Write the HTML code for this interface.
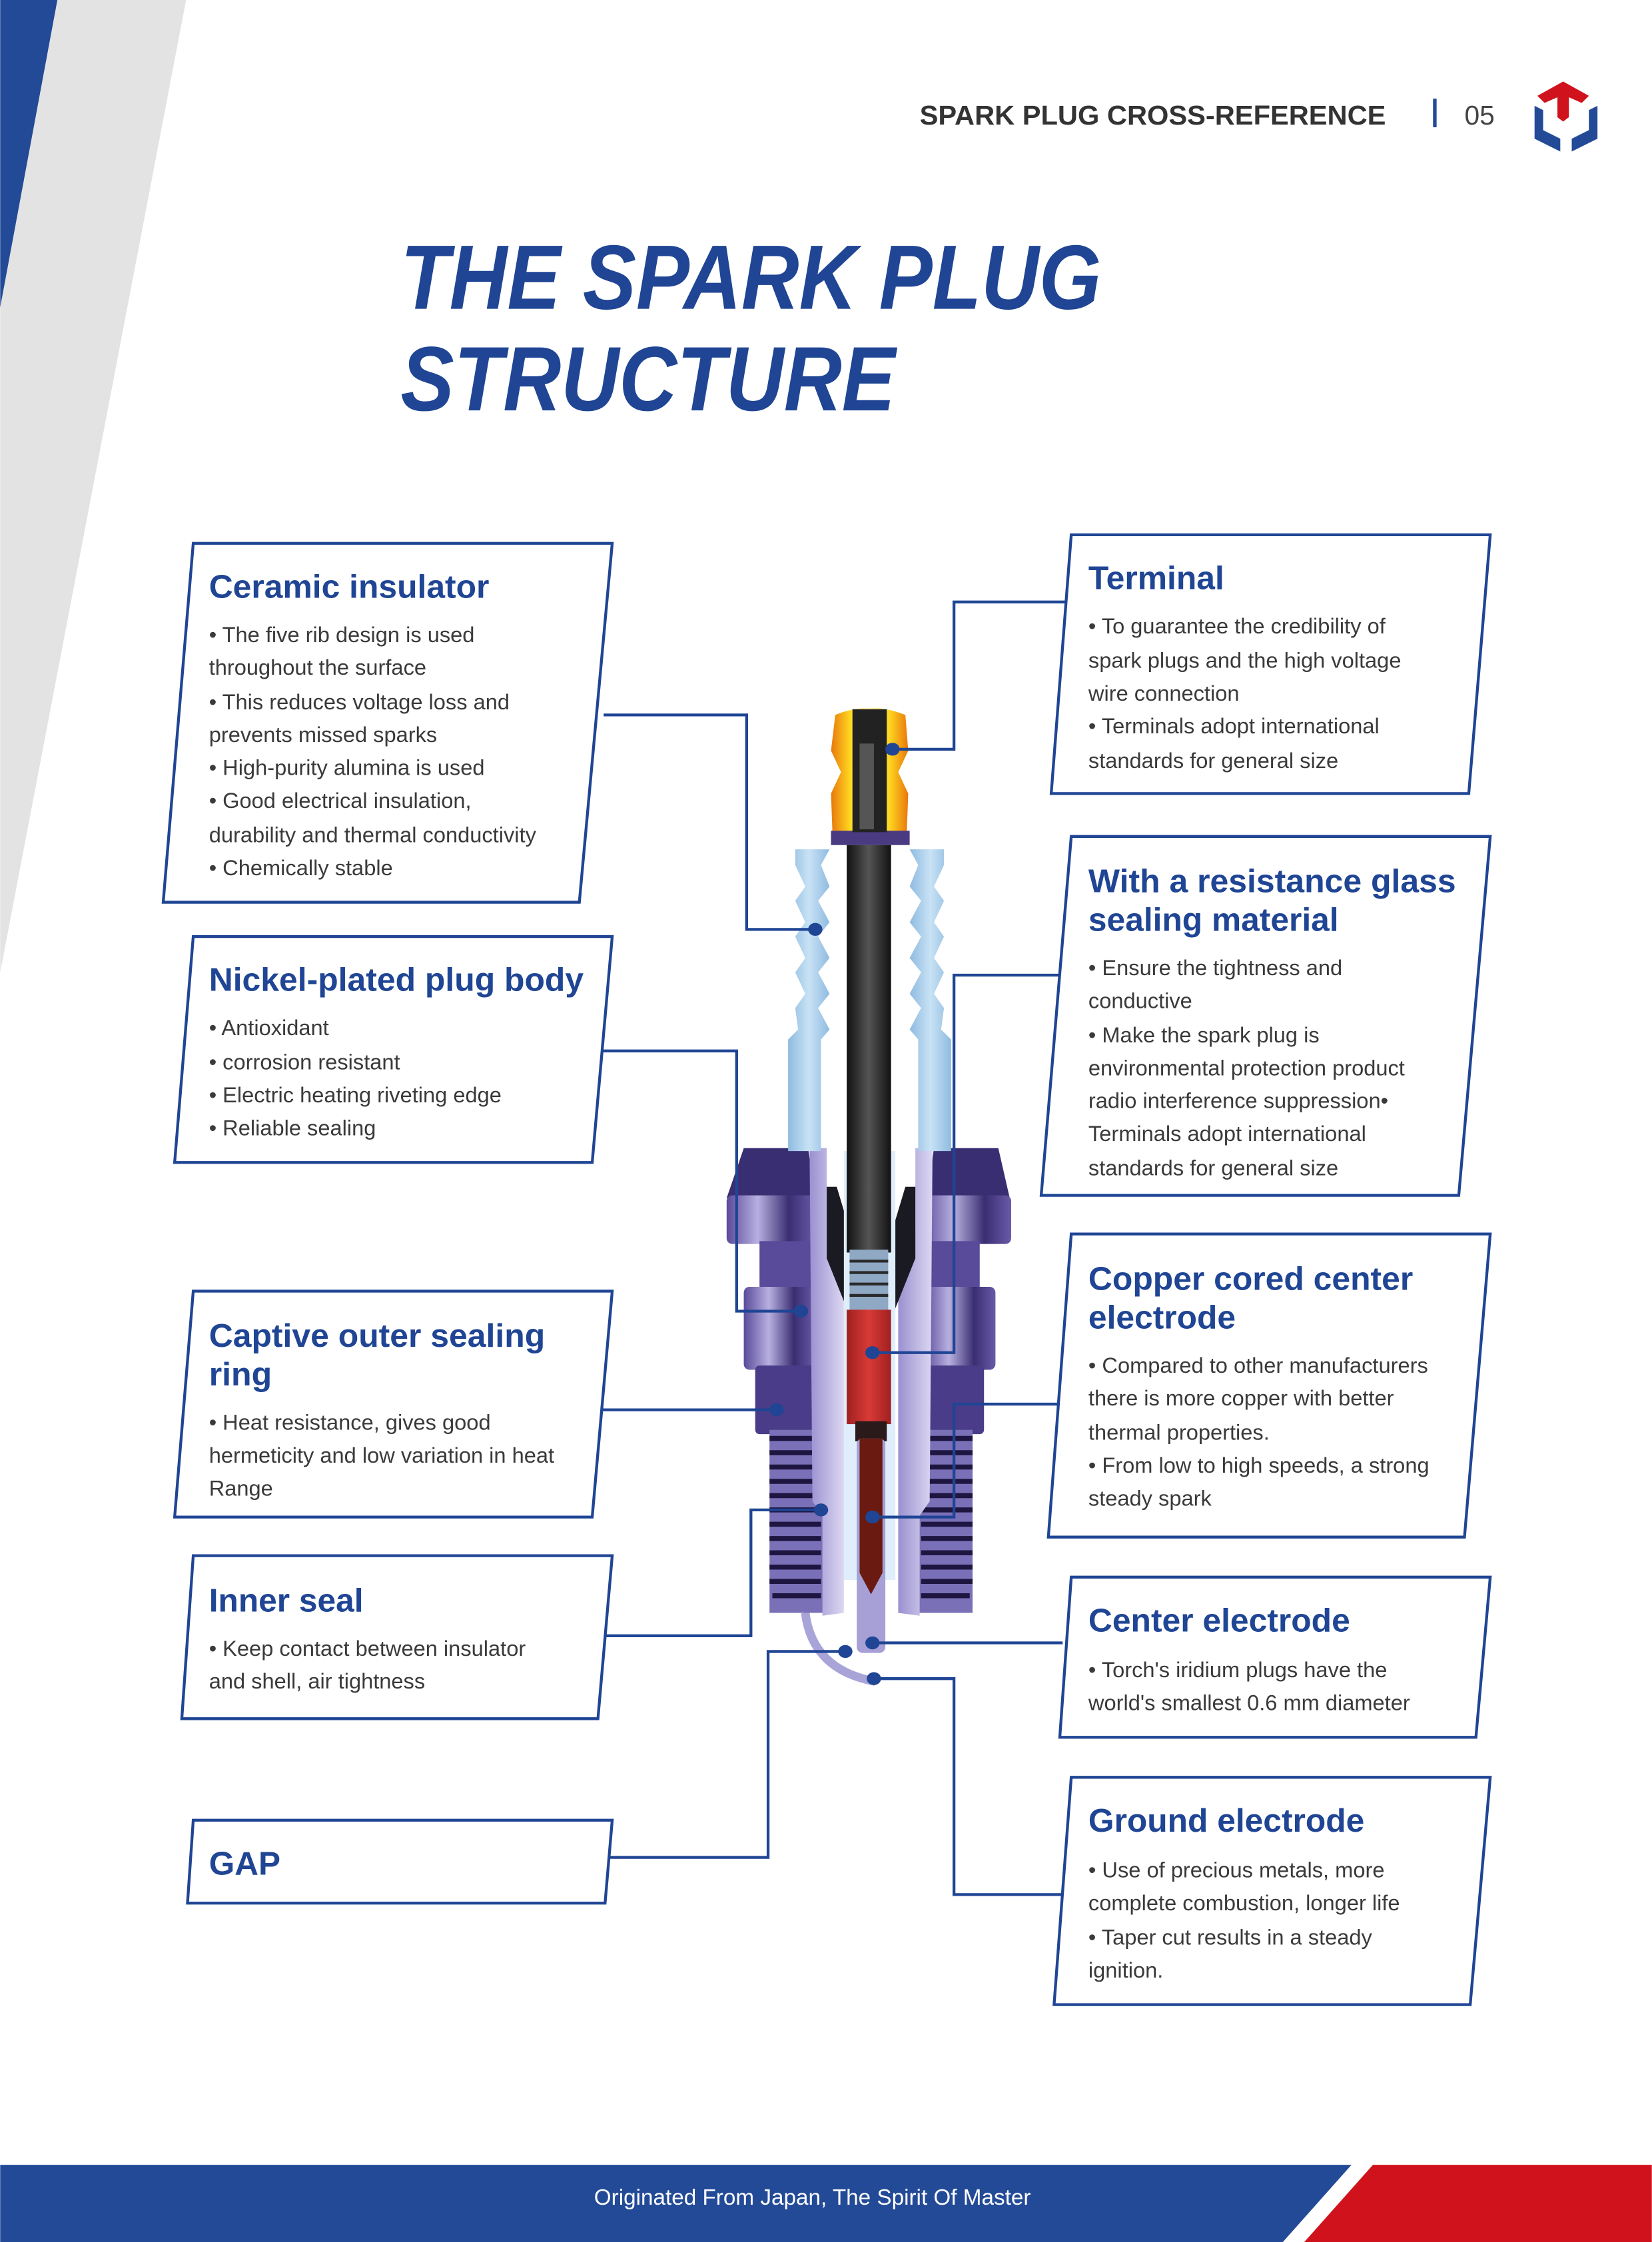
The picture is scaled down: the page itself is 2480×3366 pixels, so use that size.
<!DOCTYPE html>
<html><head><meta charset="utf-8"><style>
html,body{margin:0;padding:0;background:#fff}
svg{display:block}
</style></head><body>
<svg width="2480" height="3366" viewBox="0 0 1155 1568" xmlns="http://www.w3.org/2000/svg" font-family="Liberation Sans, sans-serif">
<defs>
<linearGradient id="gold" x1="0" x2="1"><stop offset="0" stop-color="#e8780c"/><stop offset=".25" stop-color="#ffd820"/><stop offset=".5" stop-color="#fff6c0"/><stop offset=".75" stop-color="#ffd820"/><stop offset="1" stop-color="#e8780c"/></linearGradient>
<linearGradient id="ins" x1="0" x2="1"><stop offset="0" stop-color="#8fbbe0"/><stop offset=".5" stop-color="#c8e2f5"/><stop offset="1" stop-color="#8fbbe0"/></linearGradient>
<linearGradient id="hex" x1="0" x2="1"><stop offset="0" stop-color="#5a4a9a"/><stop offset=".35" stop-color="#b8b0e0"/><stop offset=".7" stop-color="#3a2e72"/><stop offset="1" stop-color="#6a5aa8"/></linearGradient>
<linearGradient id="rod" x1="0" x2="1"><stop offset="0" stop-color="#111"/><stop offset=".5" stop-color="#555"/><stop offset="1" stop-color="#111"/></linearGradient>
<linearGradient id="red" x1="0" x2="1"><stop offset="0" stop-color="#a02020"/><stop offset=".5" stop-color="#d83a36"/><stop offset="1" stop-color="#a02020"/></linearGradient>
<linearGradient id="shell" x1="0" x2="1"><stop offset="0" stop-color="#9a90d0"/><stop offset="1" stop-color="#dcd8f2"/></linearGradient>
</defs>

<polygon points="40,0 130,0 0,680 0,215" fill="#e3e3e3"/>
<polygon points="0,0 40,0 0,215" fill="#234a97"/>

<text x="643" y="87" font-size="19" font-weight="bold" fill="#333" textLength="326" lengthAdjust="spacingAndGlyphs">SPARK PLUG CROSS-REFERENCE</text>
<rect x="1002" y="69" width="2.5" height="20" fill="#234a97"/>
<text x="1024" y="87" font-size="19" fill="#444">05</text>
<polygon points="1093,57 1111,67 1106,72 1097,68 1097,82 1093,85 1089,82 1089,68 1080,72 1075,67" fill="#d0121d"/>
<polygon points="1073,74 1079,77 1079,91 1091,97 1091,106 1073,97" fill="#234a97"/>
<polygon points="1117,74 1111,77 1111,91 1099,97 1099,106 1117,97" fill="#234a97"/>

<text x="280" y="216" font-size="64" font-weight="bold" font-style="italic" fill="#1f4594" textLength="490" lengthAdjust="spacingAndGlyphs">THE SPARK PLUG</text>
<text x="280" y="287" font-size="64" font-weight="bold" font-style="italic" fill="#1f4594" textLength="346" lengthAdjust="spacingAndGlyphs">STRUCTURE</text>

<g>
 <path d="M563,1128 Q568,1168 612,1176" stroke="#a9a4d8" stroke-width="6" fill="none"/>
 <path d="M520,803 L565,803 L570,838 L508,838 Z" fill="#3a2e72"/>
 <path d="M653,803 L698,803 L706,838 L648,838 Z" fill="#3a2e72"/>
 <rect x="508" y="836" width="62" height="34" rx="4" fill="url(#hex)"/>
 <rect x="645" y="836" width="62" height="34" rx="4" fill="url(#hex)"/>
 <rect x="531" y="868" width="40" height="34" fill="#5a4a9a"/>
 <rect x="645" y="868" width="40" height="34" fill="#5a4a9a"/>
 <rect x="520" y="900" width="50" height="58" rx="4" fill="url(#hex)"/>
 <rect x="646" y="900" width="50" height="58" rx="4" fill="url(#hex)"/>
 <rect x="528" y="955" width="44" height="48" rx="3" fill="#4a3c88"/>
 <rect x="644" y="955" width="44" height="48" rx="3" fill="#4a3c88"/>
 <rect x="538" y="1000" width="38" height="128" fill="#7a70b8"/>
 <rect x="642" y="1000" width="38" height="128" fill="#7a70b8"/>
 <g stroke="#1e1640" stroke-width="3.5">
  <line x1="538" y1="1006" x2="574" y2="1006"/><line x1="538" y1="1016" x2="574" y2="1016"/><line x1="538" y1="1026" x2="574" y2="1026"/><line x1="538" y1="1036" x2="574" y2="1036"/><line x1="538" y1="1046" x2="574" y2="1046"/><line x1="538" y1="1056" x2="574" y2="1056"/><line x1="538" y1="1066" x2="574" y2="1066"/><line x1="538" y1="1076" x2="574" y2="1076"/><line x1="538" y1="1086" x2="574" y2="1086"/><line x1="538" y1="1096" x2="574" y2="1096"/><line x1="538" y1="1106" x2="574" y2="1106"/><line x1="540" y1="1116" x2="574" y2="1116"/>
  <line x1="644" y1="1006" x2="680" y2="1006"/><line x1="644" y1="1016" x2="680" y2="1016"/><line x1="644" y1="1026" x2="680" y2="1026"/><line x1="644" y1="1036" x2="680" y2="1036"/><line x1="644" y1="1046" x2="680" y2="1046"/><line x1="644" y1="1056" x2="680" y2="1056"/><line x1="644" y1="1066" x2="680" y2="1066"/><line x1="644" y1="1076" x2="680" y2="1076"/><line x1="644" y1="1086" x2="680" y2="1086"/><line x1="644" y1="1096" x2="680" y2="1096"/><line x1="644" y1="1106" x2="680" y2="1106"/><line x1="644" y1="1116" x2="678" y2="1116"/>
 </g>
 <path d="M566,803 L578,803 L578,880 L590,905 L590,1128 L575,1130 L575,1060 L568,1050 Z" fill="url(#shell)"/>
 <path d="M652,803 L640,803 L640,880 L628,905 L628,1128 L643,1130 L643,1060 L650,1050 Z" fill="url(#shell)"/>
 <path d="M578,880 L578,830 L585,830 L594,860 L594,920 L588,905 Z" fill="#1a1a22"/>
 <path d="M640,880 L640,830 L633,830 L624,860 L624,920 L630,905 Z" fill="#1a1a22"/>
 <path d="M556,594 L580,594 L574,605 L580,620 L572,630 L580,645 L572,655 L580,670 L572,680 L580,695 L572,705 L580,720 L574,727 L574,805 L551,805 L551,727 L558,720 L556,705 L563,695 L556,680 L563,670 L556,655 L563,645 L556,630 L563,620 L556,605 Z" fill="url(#ins)"/>
 <path d="M660,594 L636,594 L642,605 L636,620 L644,630 L636,645 L644,655 L636,670 L644,680 L636,695 L644,705 L636,720 L642,727 L642,805 L665,805 L665,727 L658,720 L660,705 L653,695 L660,680 L653,670 L660,655 L653,645 L660,630 L653,620 L660,605 Z" fill="url(#ins)"/>
 <rect x="590" y="805" width="36" height="300" fill="#dfeefa"/>
 <path d="M584,500 Q608,490 633,500 L635,525 L628,540 L635,555 L634,582 L582,582 L581,555 L588,540 L581,525 Z" fill="url(#gold)"/>
 <rect x="581" y="581" width="55" height="10" fill="#4a3a82"/>
 <rect x="596" y="496" width="24" height="86" fill="#222"/>
 <rect x="601" y="520" width="10" height="60" fill="#555"/>
 <rect x="592" y="591" width="31" height="285" fill="url(#rod)"/>
 <rect x="594" y="874" width="27" height="43" fill="#8fa8c4"/>
 <g stroke="#2a2a2a" stroke-width="2"><line x1="594" y1="882" x2="621" y2="882"/><line x1="594" y1="890" x2="621" y2="890"/><line x1="594" y1="898" x2="621" y2="898"/><line x1="594" y1="906" x2="621" y2="906"/></g>
 <rect x="592" y="916" width="31" height="80" fill="url(#red)"/>
 <rect x="598" y="994" width="22" height="14" fill="#2a1a1a"/>
 <rect x="599" y="1006" width="20" height="150" rx="4" fill="#a6a0d6"/>
 <path d="M601,1006 L617,1006 L617,1100 L609,1115 L601,1100 Z" fill="#6a1a10"/>
</g>

<g stroke="#1f4594" stroke-width="2" fill="none">
 <polyline points="422,500 522,500 522,650 570,650"/>
 <polyline points="745,421 667,421 667,524 624,524"/>
 <polyline points="745,682 667,682 667,946 610,946"/>
 <polyline points="420,735 515,735 515,917 560,917"/>
 <polyline points="418,986 543,986"/>
 <polyline points="740,982 667,982 667,1061 610,1061"/>
 <polyline points="422,1144 525,1144 525,1056 574,1056"/>
 <polyline points="743,1149 610,1149"/>
 <polyline points="425,1299 537,1299 537,1155 591,1155"/>
 <polyline points="745,1325 667,1325 667,1174 611,1174"/>
</g>
<g fill="#1f4594">
 <ellipse cx="570" cy="650" rx="5" ry="4.5"/><ellipse cx="624" cy="524" rx="5" ry="4.5"/>
 <ellipse cx="610" cy="946" rx="5" ry="4.5"/><ellipse cx="560" cy="917" rx="5" ry="4.5"/>
 <ellipse cx="543" cy="986" rx="5" ry="4.5"/><ellipse cx="610" cy="1061" rx="5" ry="4.5"/>
 <ellipse cx="574" cy="1056" rx="5" ry="4.5"/><ellipse cx="610" cy="1149" rx="5" ry="4.5"/>
 <ellipse cx="591" cy="1155" rx="5" ry="4.5"/><ellipse cx="611" cy="1174" rx="5" ry="4.5"/>
</g>

<g stroke="#1f4594" stroke-width="2" fill="#fff">
 <polygon points="135,380 428,380 405,631 114,631"/>
 <polygon points="135,655 428,655 414,813 122,813"/>
 <polygon points="135,903 428,903 414,1061 122,1061"/>
 <polygon points="135,1088 428,1088 418,1202 127,1202"/>
 <polygon points="135,1273 428,1273 423,1331 131,1331"/>
 <polygon points="749,374 1042,374 1027,555 735,555"/>
 <polygon points="749,585 1042,585 1020,836 728,836"/>
 <polygon points="749,863 1042,863 1024,1075 733,1075"/>
 <polygon points="749,1103 1042,1103 1032,1215 741,1215"/>
 <polygon points="749,1243 1042,1243 1028,1402 737,1402"/>
</g>

<g font-weight="bold" font-size="23" fill="#1f4594">
 <text x="146" y="418" textLength="196" lengthAdjust="spacingAndGlyphs">Ceramic insulator</text>
 <text x="146" y="693" textLength="262" lengthAdjust="spacingAndGlyphs">Nickel-plated plug body</text>
 <text x="146" y="942" textLength="235" lengthAdjust="spacingAndGlyphs">Captive outer sealing</text>
 <text x="146" y="969" textLength="44" lengthAdjust="spacingAndGlyphs">ring</text>
 <text x="146" y="1127" textLength="108" lengthAdjust="spacingAndGlyphs">Inner seal</text>
 <text x="146" y="1311" textLength="50" lengthAdjust="spacingAndGlyphs">GAP</text>
 <text x="761" y="412" textLength="95" lengthAdjust="spacingAndGlyphs">Terminal</text>
 <text x="761" y="624" textLength="257" lengthAdjust="spacingAndGlyphs">With a resistance glass</text>
 <text x="761" y="651" textLength="175" lengthAdjust="spacingAndGlyphs">sealing material</text>
 <text x="761" y="902" textLength="227" lengthAdjust="spacingAndGlyphs">Copper cored center</text>
 <text x="761" y="929" textLength="103" lengthAdjust="spacingAndGlyphs">electrode</text>
 <text x="761" y="1141" textLength="183" lengthAdjust="spacingAndGlyphs">Center electrode</text>
 <text x="761" y="1281" textLength="193" lengthAdjust="spacingAndGlyphs">Ground electrode</text>
</g>

<g font-size="15.2" fill="#3a3a3a">
 <text x="146" y="449">• The five rib design is used</text>
 <text x="146" y="472">throughout the surface</text>
 <text x="146" y="496">• This reduces voltage loss and</text>
 <text x="146" y="519">prevents missed sparks</text>
 <text x="146" y="542">• High-purity alumina is used</text>
 <text x="146" y="565">• Good electrical insulation,</text>
 <text x="146" y="589">durability and thermal conductivity</text>
 <text x="146" y="612">• Chemically stable</text>

 <text x="146" y="724">• Antioxidant</text>
 <text x="146" y="748">• corrosion resistant</text>
 <text x="146" y="771">• Electric heating riveting edge</text>
 <text x="146" y="794">• Reliable sealing</text>

 <text x="146" y="1000">• Heat resistance, gives good</text>
 <text x="146" y="1023">hermeticity and low variation in heat</text>
 <text x="146" y="1046">Range</text>

 <text x="146" y="1158">•  Keep contact between insulator</text>
 <text x="146" y="1181">and shell, air tightness</text>

 <text x="761" y="443">• To guarantee the credibility of</text>
 <text x="761" y="467">spark plugs and the high voltage</text>
 <text x="761" y="490">wire connection</text>
 <text x="761" y="513">•  Terminals adopt international</text>
 <text x="761" y="537">standards for general size</text>

 <text x="761" y="682">• Ensure the tightness and</text>
 <text x="761" y="705">conductive</text>
 <text x="761" y="729">• Make the spark plug is</text>
 <text x="761" y="752">environmental protection product</text>
 <text x="761" y="775">radio interference suppression•</text>
 <text x="761" y="798">Terminals adopt international</text>
 <text x="761" y="822">standards for general size</text>

 <text x="761" y="960">• Compared to other manufacturers</text>
 <text x="761" y="983">there is more copper with better</text>
 <text x="761" y="1007">thermal properties.</text>
 <text x="761" y="1030">• From low to high speeds, a strong</text>
 <text x="761" y="1053">steady spark</text>

 <text x="761" y="1173">•  Torch's iridium plugs have the</text>
 <text x="761" y="1196">world's smallest 0.6 mm diameter</text>

 <text x="761" y="1313">• Use of precious metals, more</text>
 <text x="761" y="1336">complete combustion, longer life</text>
 <text x="761" y="1360">• Taper cut results in a steady</text>
 <text x="761" y="1383">ignition.</text>
</g>

<polygon points="0,1514 945,1514 897,1568 0,1568" fill="#234a97"/>
<polygon points="960,1514 1155,1514 1155,1568 912,1568" fill="#d0121d"/>
<text x="568" y="1542" font-size="15.5" fill="#fff" text-anchor="middle">Originated From Japan, The Spirit Of Master</text>
</svg>
</body></html>
